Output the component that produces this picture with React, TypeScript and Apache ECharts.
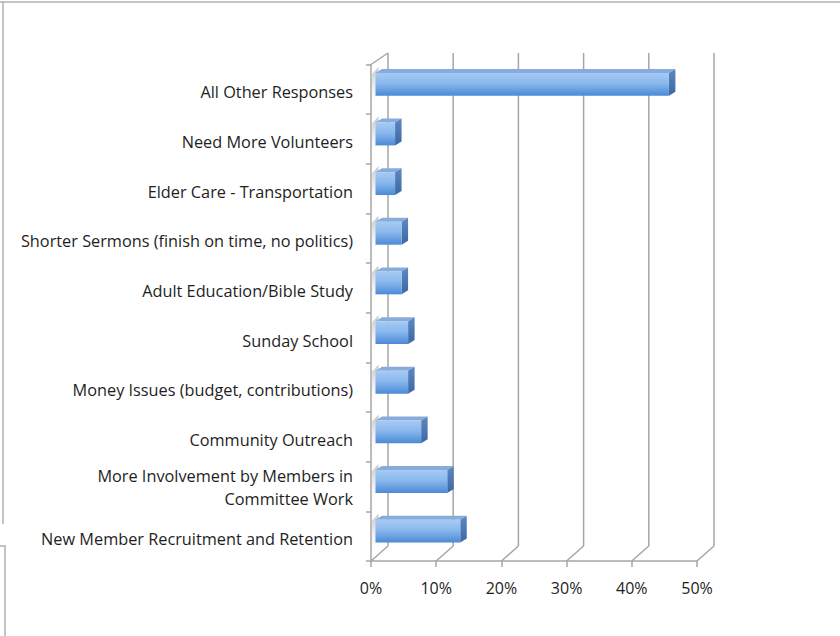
import React, { useEffect, useRef } from "react";
import * as echarts from "echarts";

const categories = [
  "All Other Responses",
  "Need More Volunteers",
  "Elder Care - Transportation",
  "Shorter Sermons (finish on time, no politics)",
  "Adult Education/Bible Study",
  "Sunday School",
  "Money Issues (budget, contributions)",
  "Community Outreach",
  "More Involvement by Members in\nCommittee Work",
  "New Member Recruitment and Retention",
];
const values = [45, 3, 3, 4, 4, 5, 5, 7, 11, 13];
const xTicks = [0, 10, 20, 30, 40, 50];

const GRID = "#a6a6a6";

export default function App() {
  const ref = useRef<HTMLDivElement>(null);
  useEffect(() => {
    const chart = echarts.init(ref.current!, null, { renderer: "svg" });
    const wallDX = 17;
    const option: any = {
      animation: false,
      backgroundColor: "#ffffff",
      grid: { left: 371, top: 64.5, width: 326, height: 496.5, containLabel: false },
      xAxis: {
        type: "value",
        min: 0,
        max: 50,
        interval: 10,
        axisLine: { show: true, lineStyle: { color: GRID, width: 1.5 } },
        axisTick: { show: true, length: 6, lineStyle: { color: GRID, width: 1.5 } },
        splitLine: { show: false },
        axisLabel: {
          formatter: "{value}%",
          color: "#1e1e1e",
          fontSize: 16,
          fontFamily: "Open Sans",
          margin: 19,
        },
      },
      yAxis: {
        type: "category",
        data: categories,
        inverse: true,
        axisLine: { show: true, lineStyle: { color: GRID, width: 1.5 } },
        axisTick: { show: true, length: 5, lineStyle: { color: GRID, width: 1.5 } },
        axisLabel: {
          color: "#1e1e1e",
          fontSize: 16.3,
          fontFamily: "Open Sans",
          margin: 18,
          lineHeight: 23,
          align: "right",
          rich: {
            a: {
              fontSize: 16.3,
              fontFamily: "Open Sans",
              color: "#1e1e1e",
              lineHeight: 23,
              padding: [6, 0, 0, 0],
            },
            b: {
              fontSize: 16.3,
              fontFamily: "Open Sans",
              color: "#1e1e1e",
              lineHeight: 23,
              padding: [2, 0, 0, 0],
            },
          },
          formatter: (v: string) => {
            const lines = v.split("\n");
            const tag = lines.length > 1 ? "b" : "a";
            return lines.map((l) => `{${tag}|${l}}`).join("\n");
          },
        },
        splitLine: { show: false },
      },
      series: [
        {
          type: "custom",
          name: "walls",
          silent: true,
          z: 1,
          data: xTicks.map((t) => [t, 0]),
          renderItem: (params: any, api: any) => {
            const cs = params.coordSys;
            const v = api.value(0);
            const x = api.coord([v, 0])[0];
            const frontTop = cs.y;
            const frontBottom = cs.y + cs.height;
            const backTop = frontTop - 11.5;
            const backBottom = frontBottom - 15;
            const children: any[] = [
              {
                type: "line",
                shape: { x1: x + wallDX, y1: backTop, x2: x + wallDX, y2: backBottom },
                style: { stroke: GRID, lineWidth: 1.5 },
              },
              {
                type: "line",
                shape: { x1: x, y1: frontBottom, x2: x + wallDX, y2: backBottom },
                style: { stroke: GRID, lineWidth: 1.5 },
              },
            ];
            if (v === 0) {
              children.push({
                type: "line",
                shape: { x1: x, y1: frontTop, x2: x + wallDX, y2: backTop },
                style: { stroke: GRID, lineWidth: 1.5 },
              });
            }
            return { type: "group", children };
          },
        },
        {
          type: "custom",
          name: "bars",
          z: 3,
          data: values.map((v, i) => [v, i]),
          renderItem: (params: any, api: any) => {
            const v = api.value(0);
            const idx = api.value(1);
            const p0 = api.coord([0, idx]);
            const p1 = api.coord([v, idx]);
            const band = api.size([0, 1])[1];
            const h = band * 0.46;
            const off = 4.5;
            const xl = p0[0] + off;
            const xr = p1[0] + off;
            const cy = p0[1] - 5;
            const yt = cy - h / 2;
            const yb = cy + h / 2;
            const dx = 6.5;
            const dy = -4;
            return {
              type: "group",
              children: [
                {
                  type: "polygon",
                  shape: {
                    points: [
                      [p0[0] + 1, yt + 1],
                      [xl + 3, yt - 6],
                      [xl + 3, yb],
                      [p0[0] + 1, yb + 4],
                    ],
                  },
                  style: {
                    fill: new echarts.graphic.LinearGradient(0, 0, 0, 1, [
                      { offset: 0, color: "rgba(150,150,150,0.55)" },
                      { offset: 0.5, color: "rgba(190,190,190,0.35)" },
                      { offset: 1, color: "rgba(230,230,230,0.1)" },
                    ]),
                  },
                  z2: 0,
                },
                {
                  type: "polygon",
                  shape: {
                    points: [
                      [xl, yt],
                      [xr, yt],
                      [xr + dx, yt + dy],
                      [xl + dx, yt + dy],
                    ],
                  },
                  style: { fill: "#87acdb" },
                  z2: 1,
                },
                {
                  type: "polygon",
                  shape: {
                    points: [
                      [xr, yt],
                      [xr + dx, yt + dy],
                      [xr + dx, yb + dy],
                      [xr, yb],
                    ],
                  },
                  style: {
                    fill: new echarts.graphic.LinearGradient(0, 0, 0, 1, [
                      { offset: 0, color: "#5d88c2" },
                      { offset: 1, color: "#3c67a3" },
                    ]),
                  },
                  z2: 1,
                },
                {
                  type: "rect",
                  shape: { x: xl, y: yt, width: xr - xl, height: yb - yt },
                  style: {
                    fill: new echarts.graphic.LinearGradient(0, 0, 0, 1, [
                      { offset: 0, color: "#a6caf3" },
                      { offset: 0.45, color: "#8ab8ee" },
                      { offset: 1, color: "#4b8ad6" },
                    ]),
                  },
                  z2: 2,
                },
              ],
            };
          },
        },
      ],
      graphic: [
        { type: "line", shape: { x1: 0, y1: 2, x2: 840, y2: 2 }, style: { stroke: "#b0b0b0", lineWidth: 1.5 } },
        { type: "line", shape: { x1: 3, y1: 2, x2: 3, y2: 524 }, style: { stroke: "#b0b0b0", lineWidth: 1.5 } },
        { type: "line", shape: { x1: 0, y1: 546, x2: 6, y2: 546 }, style: { stroke: "#b0b0b0", lineWidth: 1.5 } },
        { type: "line", shape: { x1: 5, y1: 546, x2: 5, y2: 636 }, style: { stroke: "#b0b0b0", lineWidth: 1.5 } },
      ],
    };
    chart.setOption(option);
    return () => chart.dispose();
  }, []);
  return (
    <div
      ref={ref}
      style={{ position: "fixed", left: 0, top: 0, width: 840, height: 636, background: "#fff" }}
    />
  );
}
